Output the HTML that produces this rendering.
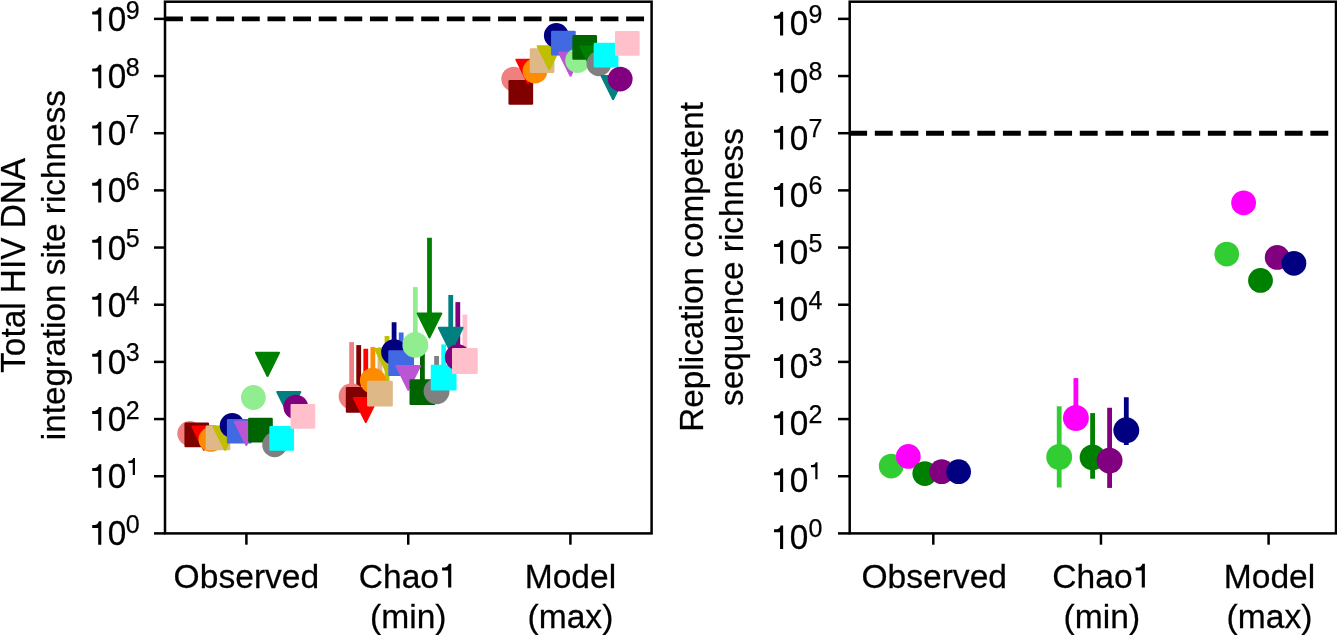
<!DOCTYPE html>
<html><head><meta charset="utf-8"><title>Richness</title>
<style>
html,body{margin:0;padding:0;background:#fff;}
body{width:1337px;height:635px;overflow:hidden;}
svg{display:block;}
text{font-family:"Liberation Sans",sans-serif;fill:#000;stroke:#000;stroke-width:0.25px;}
</style></head><body>
<svg width="1337" height="635" viewBox="0 0 1337 635">
<rect width="1337" height="635" fill="#fff"/>
<defs><mask id="m" maskUnits="userSpaceOnUse" x="0" y="0" width="1337" height="635"><rect width="1337" height="635" fill="#fff"/></mask></defs>
<g mask="url(#m)">
<line x1="154.00" y1="533.40" x2="165.00" y2="533.40" stroke="#000" stroke-width="2.5"/>
<path transform="translate(101.30 544.85) scale(1.0)" d="M0,0L-3.1,0L-3.1,-16.8L-9.1,-16.8L-9.1,-19.8L-6.6,-19.8C-4.6,-19.9 -3.1,-21.4 -2.4,-23.6L0,-23.6Z" fill="#000"/>
<text transform="translate(107.84 544.85) scale(1 1.035)" font-size="33.33">0</text>
<text x="125.87" y="532.65" font-size="25">0</text>
<line x1="154.00" y1="476.23" x2="165.00" y2="476.23" stroke="#000" stroke-width="2.5"/>
<path transform="translate(101.30 487.78) scale(1.0)" d="M0,0L-3.1,0L-3.1,-16.8L-9.1,-16.8L-9.1,-19.8L-6.6,-19.8C-4.6,-19.9 -3.1,-21.4 -2.4,-23.6L0,-23.6Z" fill="#000"/>
<text transform="translate(107.84 487.78) scale(1 1.035)" font-size="33.33">0</text>
<path transform="translate(134.97 474.98) scale(0.72)" d="M0,0L-3.1,0L-3.1,-16.8L-9.1,-16.8L-9.1,-19.8L-6.6,-19.8C-4.6,-19.9 -3.1,-21.4 -2.4,-23.6L0,-23.6Z" fill="#000"/>
<line x1="154.00" y1="419.06" x2="165.00" y2="419.06" stroke="#000" stroke-width="2.5"/>
<path transform="translate(101.30 430.71) scale(1.0)" d="M0,0L-3.1,0L-3.1,-16.8L-9.1,-16.8L-9.1,-19.8L-6.6,-19.8C-4.6,-19.9 -3.1,-21.4 -2.4,-23.6L0,-23.6Z" fill="#000"/>
<text transform="translate(107.84 430.71) scale(1 1.035)" font-size="33.33">0</text>
<text x="125.87" y="418.51" font-size="25">2</text>
<line x1="154.00" y1="361.89" x2="165.00" y2="361.89" stroke="#000" stroke-width="2.5"/>
<path transform="translate(101.30 373.64) scale(1.0)" d="M0,0L-3.1,0L-3.1,-16.8L-9.1,-16.8L-9.1,-19.8L-6.6,-19.8C-4.6,-19.9 -3.1,-21.4 -2.4,-23.6L0,-23.6Z" fill="#000"/>
<text transform="translate(107.84 373.64) scale(1 1.035)" font-size="33.33">0</text>
<text x="125.87" y="361.44" font-size="25">3</text>
<line x1="154.00" y1="304.72" x2="165.00" y2="304.72" stroke="#000" stroke-width="2.5"/>
<path transform="translate(101.30 316.57) scale(1.0)" d="M0,0L-3.1,0L-3.1,-16.8L-9.1,-16.8L-9.1,-19.8L-6.6,-19.8C-4.6,-19.9 -3.1,-21.4 -2.4,-23.6L0,-23.6Z" fill="#000"/>
<text transform="translate(107.84 316.57) scale(1 1.035)" font-size="33.33">0</text>
<text x="125.87" y="304.37" font-size="25">4</text>
<line x1="154.00" y1="247.55" x2="165.00" y2="247.55" stroke="#000" stroke-width="2.5"/>
<path transform="translate(101.30 259.50) scale(1.0)" d="M0,0L-3.1,0L-3.1,-16.8L-9.1,-16.8L-9.1,-19.8L-6.6,-19.8C-4.6,-19.9 -3.1,-21.4 -2.4,-23.6L0,-23.6Z" fill="#000"/>
<text transform="translate(107.84 259.50) scale(1 1.035)" font-size="33.33">0</text>
<text x="125.87" y="247.30" font-size="25">5</text>
<line x1="154.00" y1="190.38" x2="165.00" y2="190.38" stroke="#000" stroke-width="2.5"/>
<path transform="translate(101.30 202.43) scale(1.0)" d="M0,0L-3.1,0L-3.1,-16.8L-9.1,-16.8L-9.1,-19.8L-6.6,-19.8C-4.6,-19.9 -3.1,-21.4 -2.4,-23.6L0,-23.6Z" fill="#000"/>
<text transform="translate(107.84 202.43) scale(1 1.035)" font-size="33.33">0</text>
<text x="125.87" y="190.23" font-size="25">6</text>
<line x1="154.00" y1="133.21" x2="165.00" y2="133.21" stroke="#000" stroke-width="2.5"/>
<path transform="translate(101.30 145.36) scale(1.0)" d="M0,0L-3.1,0L-3.1,-16.8L-9.1,-16.8L-9.1,-19.8L-6.6,-19.8C-4.6,-19.9 -3.1,-21.4 -2.4,-23.6L0,-23.6Z" fill="#000"/>
<text transform="translate(107.84 145.36) scale(1 1.035)" font-size="33.33">0</text>
<text x="125.87" y="133.16" font-size="25">7</text>
<line x1="154.00" y1="76.04" x2="165.00" y2="76.04" stroke="#000" stroke-width="2.5"/>
<path transform="translate(101.30 88.29) scale(1.0)" d="M0,0L-3.1,0L-3.1,-16.8L-9.1,-16.8L-9.1,-19.8L-6.6,-19.8C-4.6,-19.9 -3.1,-21.4 -2.4,-23.6L0,-23.6Z" fill="#000"/>
<text transform="translate(107.84 88.29) scale(1 1.035)" font-size="33.33">0</text>
<text x="125.87" y="76.09" font-size="25">8</text>
<line x1="154.00" y1="18.87" x2="165.00" y2="18.87" stroke="#000" stroke-width="2.5"/>
<path transform="translate(101.30 31.22) scale(1.0)" d="M0,0L-3.1,0L-3.1,-16.8L-9.1,-16.8L-9.1,-19.8L-6.6,-19.8C-4.6,-19.9 -3.1,-21.4 -2.4,-23.6L0,-23.6Z" fill="#000"/>
<text transform="translate(107.84 31.22) scale(1 1.035)" font-size="33.33">0</text>
<text x="125.87" y="19.02" font-size="25">9</text>
<line x1="246.40" y1="533.40" x2="246.40" y2="544.70" stroke="#000" stroke-width="2.5"/>
<line x1="408.25" y1="533.40" x2="408.25" y2="544.70" stroke="#000" stroke-width="2.5"/>
<line x1="570.40" y1="533.40" x2="570.40" y2="544.70" stroke="#000" stroke-width="2.5"/>
<text transform="translate(246.40 587.5) scale(1 1.015)" font-size="33.6" text-anchor="middle">Observed</text>
<text transform="translate(358.74 587.5) scale(1 1.015)" font-size="33.6">Chao</text>
<path transform="translate(451.27 587.50) scale(1.01)" d="M0,0L-3.1,0L-3.1,-16.8L-9.1,-16.8L-9.1,-19.8L-6.6,-19.8C-4.6,-19.9 -3.1,-21.4 -2.4,-23.6L0,-23.6Z" fill="#000"/>
<text transform="translate(408.25 627.6) scale(1 1.015)" font-size="33.6" text-anchor="middle">(min)</text>
<text transform="translate(570.40 587.5) scale(1 1.015)" font-size="33.6" text-anchor="middle">Model</text>
<text transform="translate(570.40 627.6) scale(1 1.015)" font-size="33.6" text-anchor="middle">(max)</text>
<text transform="translate(24.5 265.4) rotate(-90) scale(1 1.025)" font-size="33.33" text-anchor="middle">Total HIV DNA</text>
<text transform="translate(64.5 265.1) rotate(-90)" font-size="33.33" text-anchor="middle">integration site richness</text>
<line x1="165.0" y1="18.87" x2="651.6" y2="18.87" stroke="#000" stroke-width="4.85" stroke-dasharray="17.9 7.72"/>
<line x1="351.61" y1="342.10" x2="351.61" y2="401.25" stroke="#F08080" stroke-width="4.8"/>
<line x1="358.69" y1="345.10" x2="358.69" y2="404.90" stroke="#800000" stroke-width="4.8"/>
<line x1="365.77" y1="348.75" x2="365.77" y2="415.00" stroke="#FF0000" stroke-width="4.8"/>
<line x1="372.85" y1="347.10" x2="372.85" y2="385.60" stroke="#FF8C00" stroke-width="4.8"/>
<line x1="379.93" y1="347.25" x2="379.93" y2="398.60" stroke="#DEB887" stroke-width="4.8"/>
<line x1="387.01" y1="336.00" x2="387.01" y2="385.00" stroke="#BFBF00" stroke-width="4.8"/>
<line x1="394.09" y1="322.25" x2="394.09" y2="357.10" stroke="#000080" stroke-width="4.8"/>
<line x1="401.17" y1="332.50" x2="401.17" y2="368.15" stroke="#4169E1" stroke-width="4.8"/>
<line x1="408.25" y1="370.00" x2="408.25" y2="382.80" stroke="#BA55D3" stroke-width="4.8"/>
<line x1="415.33" y1="287.10" x2="415.33" y2="349.90" stroke="#90EE90" stroke-width="4.8"/>
<line x1="422.41" y1="345.00" x2="422.41" y2="397.10" stroke="#006400" stroke-width="4.8"/>
<line x1="429.49" y1="237.75" x2="429.49" y2="330.30" stroke="#008000" stroke-width="4.8"/>
<line x1="436.57" y1="356.00" x2="436.57" y2="396.25" stroke="#808080" stroke-width="4.8"/>
<line x1="443.65" y1="344.40" x2="443.65" y2="382.70" stroke="#00FFFF" stroke-width="4.8"/>
<line x1="450.73" y1="295.00" x2="450.73" y2="344.60" stroke="#008080" stroke-width="4.8"/>
<line x1="457.81" y1="302.10" x2="457.81" y2="362.25" stroke="#800080" stroke-width="4.8"/>
<line x1="464.89" y1="314.60" x2="464.89" y2="366.00" stroke="#FFC0CB" stroke-width="4.8"/>
<circle cx="189.70" cy="433.50" r="12.40" fill="#F08080"/>
<circle cx="351.61" cy="396.25" r="12.95" fill="#F08080"/>
<circle cx="513.70" cy="79.10" r="12.40" fill="#F08080"/>
<rect x="185.62" y="423.75" width="22.30" height="22.30" fill="#800000" stroke="#800000" stroke-width="2.4" stroke-linejoin="round"/>
<rect x="346.99" y="388.20" width="23.40" height="23.40" fill="#800000" stroke="#800000" stroke-width="2.4" stroke-linejoin="round"/>
<rect x="509.65" y="81.15" width="22.30" height="22.30" fill="#800000" stroke="#800000" stroke-width="2.4" stroke-linejoin="round"/>
<path d="M192.35 426.60L215.35 426.60L203.85 449.80Z" fill="#FF0000" stroke="#FF0000" stroke-width="2.0" stroke-linejoin="round"/>
<path d="M353.87 398.10L377.67 398.10L365.77 422.10Z" fill="#FF0000" stroke="#FF0000" stroke-width="2.0" stroke-linejoin="round"/>
<path d="M516.40 59.75L539.40 59.75L527.90 82.95Z" fill="#FF0000" stroke="#FF0000" stroke-width="2.0" stroke-linejoin="round"/>
<circle cx="210.93" cy="439.40" r="12.40" fill="#FF8C00"/>
<circle cx="372.85" cy="380.60" r="12.95" fill="#FF8C00"/>
<circle cx="535.00" cy="71.00" r="12.40" fill="#FF8C00"/>
<rect x="206.85" y="426.65" width="22.30" height="22.30" fill="#DEB887" stroke="#DEB887" stroke-width="2.4" stroke-linejoin="round"/>
<rect x="368.23" y="381.90" width="23.40" height="23.40" fill="#DEB887" stroke="#DEB887" stroke-width="2.4" stroke-linejoin="round"/>
<rect x="530.95" y="49.55" width="22.30" height="22.30" fill="#DEB887" stroke="#DEB887" stroke-width="2.4" stroke-linejoin="round"/>
<path d="M213.58 426.70L236.58 426.70L225.08 449.90Z" fill="#BFBF00" stroke="#BFBF00" stroke-width="2.0" stroke-linejoin="round"/>
<path d="M375.11 349.10L398.91 349.10L387.01 373.10Z" fill="#BFBF00" stroke="#BFBF00" stroke-width="2.0" stroke-linejoin="round"/>
<path d="M537.70 46.20L560.70 46.20L549.20 69.40Z" fill="#BFBF00" stroke="#BFBF00" stroke-width="2.0" stroke-linejoin="round"/>
<circle cx="232.15" cy="425.40" r="12.40" fill="#000080"/>
<circle cx="394.09" cy="352.10" r="12.95" fill="#000080"/>
<circle cx="556.30" cy="35.40" r="12.40" fill="#000080"/>
<rect x="228.08" y="420.10" width="22.30" height="22.30" fill="#4169E1" stroke="#4169E1" stroke-width="2.4" stroke-linejoin="round"/>
<rect x="389.47" y="351.45" width="23.40" height="23.40" fill="#4169E1" stroke="#4169E1" stroke-width="2.4" stroke-linejoin="round"/>
<rect x="552.25" y="31.95" width="22.30" height="22.30" fill="#4169E1" stroke="#4169E1" stroke-width="2.4" stroke-linejoin="round"/>
<path d="M234.80 421.80L257.80 421.80L246.30 445.00Z" fill="#BA55D3" stroke="#BA55D3" stroke-width="2.0" stroke-linejoin="round"/>
<path d="M396.35 365.90L420.15 365.90L408.25 389.90Z" fill="#BA55D3" stroke="#BA55D3" stroke-width="2.0" stroke-linejoin="round"/>
<path d="M559.00 52.60L582.00 52.60L570.50 75.80Z" fill="#BA55D3" stroke="#BA55D3" stroke-width="2.0" stroke-linejoin="round"/>
<circle cx="253.38" cy="397.50" r="12.40" fill="#90EE90"/>
<circle cx="415.33" cy="344.90" r="12.95" fill="#90EE90"/>
<circle cx="577.60" cy="60.60" r="12.40" fill="#90EE90"/>
<rect x="249.30" y="418.95" width="22.30" height="22.30" fill="#006400" stroke="#006400" stroke-width="2.4" stroke-linejoin="round"/>
<rect x="410.71" y="380.40" width="23.40" height="23.40" fill="#006400" stroke="#006400" stroke-width="2.4" stroke-linejoin="round"/>
<rect x="573.55" y="36.15" width="22.30" height="22.30" fill="#006400" stroke="#006400" stroke-width="2.4" stroke-linejoin="round"/>
<path d="M256.03 352.75L279.03 352.75L267.53 375.95Z" fill="#008000" stroke="#008000" stroke-width="2.0" stroke-linejoin="round"/>
<path d="M417.59 313.40L441.39 313.40L429.49 337.40Z" fill="#008000" stroke="#008000" stroke-width="2.0" stroke-linejoin="round"/>
<path d="M580.30 46.40L603.30 46.40L591.80 69.60Z" fill="#008000" stroke="#008000" stroke-width="2.0" stroke-linejoin="round"/>
<circle cx="274.60" cy="444.75" r="12.40" fill="#808080"/>
<circle cx="436.57" cy="391.25" r="12.95" fill="#808080"/>
<circle cx="598.90" cy="63.75" r="12.40" fill="#808080"/>
<rect x="270.53" y="427.15" width="22.30" height="22.30" fill="#00FFFF" stroke="#00FFFF" stroke-width="2.4" stroke-linejoin="round"/>
<rect x="431.95" y="366.00" width="23.40" height="23.40" fill="#00FFFF" stroke="#00FFFF" stroke-width="2.4" stroke-linejoin="round"/>
<rect x="594.85" y="44.05" width="22.30" height="22.30" fill="#00FFFF" stroke="#00FFFF" stroke-width="2.4" stroke-linejoin="round"/>
<path d="M277.25 392.00L300.25 392.00L288.75 415.20Z" fill="#008080" stroke="#008080" stroke-width="2.0" stroke-linejoin="round"/>
<path d="M438.83 327.70L462.63 327.70L450.73 351.70Z" fill="#008080" stroke="#008080" stroke-width="2.0" stroke-linejoin="round"/>
<path d="M601.60 76.00L624.60 76.00L613.10 99.20Z" fill="#008080" stroke="#008080" stroke-width="2.0" stroke-linejoin="round"/>
<circle cx="295.82" cy="407.10" r="12.40" fill="#800080"/>
<circle cx="457.81" cy="357.25" r="12.95" fill="#800080"/>
<circle cx="620.20" cy="79.10" r="12.40" fill="#800080"/>
<rect x="291.75" y="405.25" width="22.30" height="22.30" fill="#FFC0CB" stroke="#FFC0CB" stroke-width="2.4" stroke-linejoin="round"/>
<rect x="453.19" y="349.30" width="23.40" height="23.40" fill="#FFC0CB" stroke="#FFC0CB" stroke-width="2.4" stroke-linejoin="round"/>
<rect x="616.15" y="32.15" width="22.30" height="22.30" fill="#FFC0CB" stroke="#FFC0CB" stroke-width="2.4" stroke-linejoin="round"/>
<rect x="165.00" y="1.70" width="486.60" height="531.70" fill="none" stroke="#000" stroke-width="2.5"/>
<line x1="838.00" y1="533.40" x2="849.70" y2="533.40" stroke="#000" stroke-width="2.5"/>
<path transform="translate(783.15 549.10) scale(1.0)" d="M0,0L-3.1,0L-3.1,-16.8L-9.1,-16.8L-9.1,-19.8L-6.6,-19.8C-4.6,-19.9 -3.1,-21.4 -2.4,-23.6L0,-23.6Z" fill="#000"/>
<text transform="translate(789.69 549.10) scale(1 1.035)" font-size="33.33">0</text>
<text x="808.42" y="536.90" font-size="25">0</text>
<line x1="838.00" y1="476.23" x2="849.70" y2="476.23" stroke="#000" stroke-width="2.5"/>
<path transform="translate(783.15 492.03) scale(1.0)" d="M0,0L-3.1,0L-3.1,-16.8L-9.1,-16.8L-9.1,-19.8L-6.6,-19.8C-4.6,-19.9 -3.1,-21.4 -2.4,-23.6L0,-23.6Z" fill="#000"/>
<text transform="translate(789.69 492.03) scale(1 1.035)" font-size="33.33">0</text>
<path transform="translate(817.52 479.23) scale(0.72)" d="M0,0L-3.1,0L-3.1,-16.8L-9.1,-16.8L-9.1,-19.8L-6.6,-19.8C-4.6,-19.9 -3.1,-21.4 -2.4,-23.6L0,-23.6Z" fill="#000"/>
<line x1="838.00" y1="419.06" x2="849.70" y2="419.06" stroke="#000" stroke-width="2.5"/>
<path transform="translate(783.15 434.96) scale(1.0)" d="M0,0L-3.1,0L-3.1,-16.8L-9.1,-16.8L-9.1,-19.8L-6.6,-19.8C-4.6,-19.9 -3.1,-21.4 -2.4,-23.6L0,-23.6Z" fill="#000"/>
<text transform="translate(789.69 434.96) scale(1 1.035)" font-size="33.33">0</text>
<text x="808.42" y="422.76" font-size="25">2</text>
<line x1="838.00" y1="361.89" x2="849.70" y2="361.89" stroke="#000" stroke-width="2.5"/>
<path transform="translate(783.15 377.89) scale(1.0)" d="M0,0L-3.1,0L-3.1,-16.8L-9.1,-16.8L-9.1,-19.8L-6.6,-19.8C-4.6,-19.9 -3.1,-21.4 -2.4,-23.6L0,-23.6Z" fill="#000"/>
<text transform="translate(789.69 377.89) scale(1 1.035)" font-size="33.33">0</text>
<text x="808.42" y="365.69" font-size="25">3</text>
<line x1="838.00" y1="304.72" x2="849.70" y2="304.72" stroke="#000" stroke-width="2.5"/>
<path transform="translate(783.15 320.82) scale(1.0)" d="M0,0L-3.1,0L-3.1,-16.8L-9.1,-16.8L-9.1,-19.8L-6.6,-19.8C-4.6,-19.9 -3.1,-21.4 -2.4,-23.6L0,-23.6Z" fill="#000"/>
<text transform="translate(789.69 320.82) scale(1 1.035)" font-size="33.33">0</text>
<text x="808.42" y="308.62" font-size="25">4</text>
<line x1="838.00" y1="247.55" x2="849.70" y2="247.55" stroke="#000" stroke-width="2.5"/>
<path transform="translate(783.15 263.75) scale(1.0)" d="M0,0L-3.1,0L-3.1,-16.8L-9.1,-16.8L-9.1,-19.8L-6.6,-19.8C-4.6,-19.9 -3.1,-21.4 -2.4,-23.6L0,-23.6Z" fill="#000"/>
<text transform="translate(789.69 263.75) scale(1 1.035)" font-size="33.33">0</text>
<text x="808.42" y="251.55" font-size="25">5</text>
<line x1="838.00" y1="190.38" x2="849.70" y2="190.38" stroke="#000" stroke-width="2.5"/>
<path transform="translate(783.15 206.68) scale(1.0)" d="M0,0L-3.1,0L-3.1,-16.8L-9.1,-16.8L-9.1,-19.8L-6.6,-19.8C-4.6,-19.9 -3.1,-21.4 -2.4,-23.6L0,-23.6Z" fill="#000"/>
<text transform="translate(789.69 206.68) scale(1 1.035)" font-size="33.33">0</text>
<text x="808.42" y="194.48" font-size="25">6</text>
<line x1="838.00" y1="133.21" x2="849.70" y2="133.21" stroke="#000" stroke-width="2.5"/>
<path transform="translate(783.15 149.61) scale(1.0)" d="M0,0L-3.1,0L-3.1,-16.8L-9.1,-16.8L-9.1,-19.8L-6.6,-19.8C-4.6,-19.9 -3.1,-21.4 -2.4,-23.6L0,-23.6Z" fill="#000"/>
<text transform="translate(789.69 149.61) scale(1 1.035)" font-size="33.33">0</text>
<text x="808.42" y="137.41" font-size="25">7</text>
<line x1="838.00" y1="76.04" x2="849.70" y2="76.04" stroke="#000" stroke-width="2.5"/>
<path transform="translate(783.15 92.54) scale(1.0)" d="M0,0L-3.1,0L-3.1,-16.8L-9.1,-16.8L-9.1,-19.8L-6.6,-19.8C-4.6,-19.9 -3.1,-21.4 -2.4,-23.6L0,-23.6Z" fill="#000"/>
<text transform="translate(789.69 92.54) scale(1 1.035)" font-size="33.33">0</text>
<text x="808.42" y="80.34" font-size="25">8</text>
<line x1="838.00" y1="18.87" x2="849.70" y2="18.87" stroke="#000" stroke-width="2.5"/>
<path transform="translate(783.15 35.47) scale(1.0)" d="M0,0L-3.1,0L-3.1,-16.8L-9.1,-16.8L-9.1,-19.8L-6.6,-19.8C-4.6,-19.9 -3.1,-21.4 -2.4,-23.6L0,-23.6Z" fill="#000"/>
<text transform="translate(789.69 35.47) scale(1 1.035)" font-size="33.33">0</text>
<text x="808.42" y="23.27" font-size="25">9</text>
<line x1="933.30" y1="533.40" x2="933.30" y2="544.70" stroke="#000" stroke-width="2.5"/>
<line x1="1100.95" y1="533.40" x2="1100.95" y2="544.70" stroke="#000" stroke-width="2.5"/>
<line x1="1268.60" y1="533.40" x2="1268.60" y2="544.70" stroke="#000" stroke-width="2.5"/>
<text transform="translate(934.20 587.5) scale(1 1.015)" font-size="33.6" text-anchor="middle">Observed</text>
<text transform="translate(1052.34 587.5) scale(1 1.015)" font-size="33.6">Chao</text>
<path transform="translate(1144.87 587.50) scale(1.01)" d="M0,0L-3.1,0L-3.1,-16.8L-9.1,-16.8L-9.1,-19.8L-6.6,-19.8C-4.6,-19.9 -3.1,-21.4 -2.4,-23.6L0,-23.6Z" fill="#000"/>
<text transform="translate(1101.85 627.6) scale(1 1.015)" font-size="33.6" text-anchor="middle">(min)</text>
<text transform="translate(1269.50 587.5) scale(1 1.015)" font-size="33.6" text-anchor="middle">Model</text>
<text transform="translate(1269.50 627.6) scale(1 1.015)" font-size="33.6" text-anchor="middle">(max)</text>
<text transform="translate(703.0 266.9) rotate(-90)" font-size="33.33" text-anchor="middle">Replication competent</text>
<text transform="translate(742.6 267.0) rotate(-90)" font-size="33.33" text-anchor="middle">sequence richness</text>
<line x1="849.2" y1="133.21" x2="1336.0" y2="133.21" stroke="#000" stroke-width="4.85" stroke-dasharray="17.9 7.72"/>
<line x1="1059.20" y1="406.25" x2="1059.20" y2="487.50" stroke="#32CD32" stroke-width="4.8"/>
<line x1="1075.90" y1="378.10" x2="1075.90" y2="425.00" stroke="#FF00FF" stroke-width="4.8"/>
<line x1="1092.60" y1="413.10" x2="1092.60" y2="478.75" stroke="#008000" stroke-width="4.8"/>
<line x1="1109.60" y1="407.75" x2="1109.60" y2="487.90" stroke="#800080" stroke-width="4.8"/>
<line x1="1126.30" y1="397.25" x2="1126.30" y2="445.00" stroke="#000080" stroke-width="4.8"/>
<circle cx="891.20" cy="466.10" r="12.40" fill="#32CD32"/>
<circle cx="1059.20" cy="457.00" r="12.95" fill="#32CD32"/>
<circle cx="1226.75" cy="254.10" r="12.40" fill="#32CD32"/>
<circle cx="908.30" cy="456.40" r="12.40" fill="#FF00FF"/>
<circle cx="1075.90" cy="418.00" r="12.95" fill="#FF00FF"/>
<circle cx="1243.60" cy="202.80" r="12.40" fill="#FF00FF"/>
<circle cx="924.80" cy="473.60" r="12.40" fill="#008000"/>
<circle cx="1092.60" cy="457.40" r="12.95" fill="#008000"/>
<circle cx="1260.50" cy="280.40" r="12.40" fill="#008000"/>
<circle cx="941.70" cy="471.70" r="12.40" fill="#800080"/>
<circle cx="1109.60" cy="460.60" r="12.95" fill="#800080"/>
<circle cx="1277.20" cy="257.40" r="12.40" fill="#800080"/>
<circle cx="958.60" cy="471.70" r="12.40" fill="#000080"/>
<circle cx="1126.30" cy="430.30" r="12.95" fill="#000080"/>
<circle cx="1293.90" cy="263.30" r="12.40" fill="#000080"/>
<rect x="849.70" y="1.70" width="486.30" height="531.70" fill="none" stroke="#000" stroke-width="2.5"/>
</g></svg></body></html>
